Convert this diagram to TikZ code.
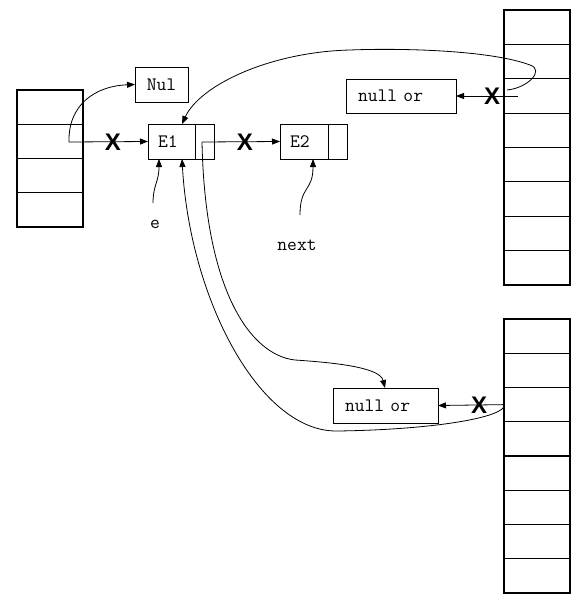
\documentclass[tikz,border=0pt]{standalone}
\usepackage{fontspec}
\newfontfamily\xfont{Liberation Sans}
\usetikzlibrary{arrows.meta}
\tikzset{
  box/.style={draw, line width=0.9pt, inner sep=0pt, outer sep=0pt, font=\ttfamily\fontsize{19}{20}\selectfont},
  cell/.style={draw, line width=1.1pt, inner sep=0pt, outer sep=0pt, minimum width=66, minimum height=#1},
  link/.style={line width=0.8pt, -{Triangle[length=8pt,width=6pt]}},
  xmark/.style={font=\xfont\bfseries\fontsize{24}{24}\selectfont, inner sep=0pt},
  lbl/.style={font=\ttfamily\fontsize{19}{20}\selectfont, inner sep=0pt}
}
\begin{document}
\begin{tikzpicture}[x=1pt,y=-1pt]
\useasboundingbox (0,0) rectangle (580,602);
% left array
\foreach \i in {1,...,4} {\node[cell=34.25] (L\i) at (50,{90+34.25*(\i-0.5)}) {};}
% top right array
\foreach \i in {1,...,8} {\node[cell=34.375] (T\i) at (537,{10+34.375*(\i-0.5)}) {};}
% bottom right array
\foreach \i in {1,...,8} {\node[cell=34.25] (B\i) at (537,{319+34.25*(\i-0.5)}) {};}
% boxes
\node[box, minimum width=53, minimum height=35] (nul) at (161.5,84.5) {Nul};
\node[box, minimum width=47, minimum height=35, text width=27, align=left] (e1) at (171.5,141.5) {E1};
\node[box, minimum width=19, minimum height=35] (e1p) at (204.5,141.5) {};
\node[box, minimum width=48, minimum height=35, text width=28, align=left] (e2) at (304,141.5) {E2};
\node[box, minimum width=19, minimum height=35] (e2p) at (337.5,141.5) {};
\node[box, minimum width=110, minimum height=34, text width=86, align=left] (nt) at (401,96) {null or};
\node[box, minimum width=105, minimum height=35, text width=81, align=left] (nb) at (385.5,405.5) {null or};
% labels
\node[lbl] (le) at (155,224) {e};
\node[lbl] (lnext) at (297,245) {next};
% coordinates
\coordinate (ls) at (69,142);
\coordinate (ps) at (202,142);
\coordinate (ts) at (518,96);
\coordinate (te) at (507,90);
\coordinate (e1top) at (182,124);
\coordinate (e1bot) at (182,159);
\coordinate (e1bl) at (159,159);
\coordinate (e2bl) at (313,159);
\coordinate (nbtop) at (385,388);
\coordinate (bs) at (504,407);
\coordinate (eb) at (153,203);
\coordinate (nxb) at (300,215);
% straight links
\draw[link] (ls) -- (e1.west);
\draw[link] (ps) -- (e2.west);
\draw[link] (ts) -- (nt.east);
\draw[link] (B3.west) -- (nb.east);
% X marks
\node[xmark] (x1) at (113,142) {X};
\node[xmark] (x2) at (245,142) {X};
\node[xmark] (x3) at (492,96) {X};
\node[xmark] (x4) at (479,405) {X};
% curves
\draw[link] (ls) .. controls (68,105) and (95,86) .. (nul.west);
\draw[link] (te) .. controls (528,88) and (545,70) .. (530,65)
  .. controls (490,50) and (400,48) .. (350,50)
  .. controls (270,52) and (200,85) .. (e1top);
\draw[link] (ps) .. controls (205,290) and (250,355) .. (295,360)
  .. controls (340,363) and (380,368) .. (nbtop);
\draw[link] (bs) .. controls (495,420) and (420,430) .. (337,431)
  .. controls (260,432) and (190,300) .. (e1bot);
\draw[link] (eb) .. controls (153,185) and (159,182) .. (e1bl);
\draw[link] (nxb) .. controls (300,185) and (313,192) .. (e2bl);
\end{tikzpicture}
\end{document}
